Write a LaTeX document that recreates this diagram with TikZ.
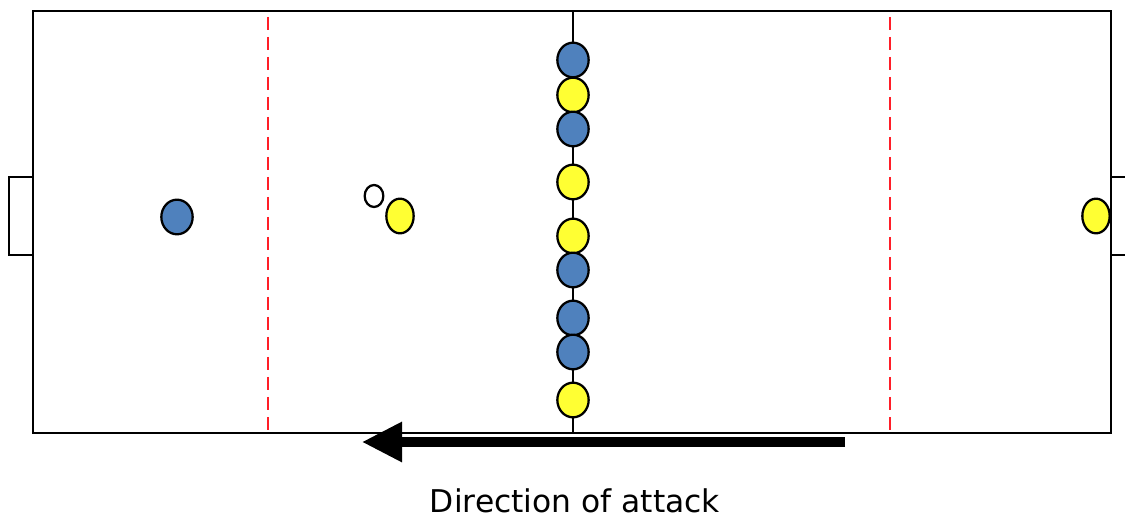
\documentclass[tikz,border=0pt]{standalone}
\usepackage{fontspec}
\setmainfont{DejaVu Sans}
\usetikzlibrary{arrows.meta,shapes.geometric}
\definecolor{pblue}{RGB}{79,129,189}
\definecolor{pyellow}{RGB}{255,255,51}
\definecolor{dashred}{RGB}{255,30,40}
\begin{document}
\begin{tikzpicture}[x=0.75pt,y=-0.75pt,
  player/.style={ellipse,draw=black,line width=1.7pt,inner sep=0pt,minimum width=23.5pt,minimum height=26pt},
  bl/.style={player,fill=pblue},
  ye/.style={player,fill=pyellow},
  pitchline/.style={line width=1.8pt,black},
  zone/.style={line width=1.9pt,dashred,dash pattern=on 10pt off 5pt}]
\useasboundingbox (0,0) rectangle (1125,520);
\clip (0,0) rectangle (1125,520);
% pitch
\draw[pitchline] (33,11) rectangle (1111,433);
\draw[pitchline] (9,177) rectangle (33,255);
\draw[pitchline] (1111,177) rectangle (1140,255);
\coordinate (ctop) at (573,11);
\coordinate (cbot) at (573,433);
\draw[pitchline] (ctop) -- (cbot);
\coordinate (z1t) at (268,17); \coordinate (z1b) at (268,433);
\coordinate (z2t) at (890,17); \coordinate (z2b) at (890,433);
\draw[zone] (z1t) -- (z1b);
\draw[zone] (z2t) -- (z2b);
% players on the halfway line
\node[bl] (c1) at (573,60) {};
\node[ye] (c2) at (573,95) {};
\node[bl] (c3) at (573,129) {};
\node[ye] (c4) at (573,182) {};
\node[ye] (c5) at (573,236) {};
\node[bl] (c6) at (573,270) {};
\node[bl] (c7) at (573,318) {};
\node[bl] (c8) at (573,352) {};
\node[ye] (c9) at (573,400) {};
% other players
\node[bl] (lb) at (177,217) {};
\node[ye,minimum width=20.5pt] (ly) at (400,216) {};
\node[ye,minimum width=20.5pt] (ry) at (1096,216) {};
\node[ellipse,draw=black,line width=1.7pt,fill=white,inner sep=0pt,minimum width=14pt,minimum height=16.5pt] (ball) at (374,196) {};
% arrow
\coordinate (as) at (845,442);
\coordinate (ae) at (362,442);
\draw[line width=6.8pt,-{Triangle[length=30pt,width=28.5pt]}] (as) -- (ae);
\node[anchor=base,font=\fontsize{23.5}{28}\selectfont] (lbl) at (575,512) {Direction of attack};
\end{tikzpicture}
\end{document}
